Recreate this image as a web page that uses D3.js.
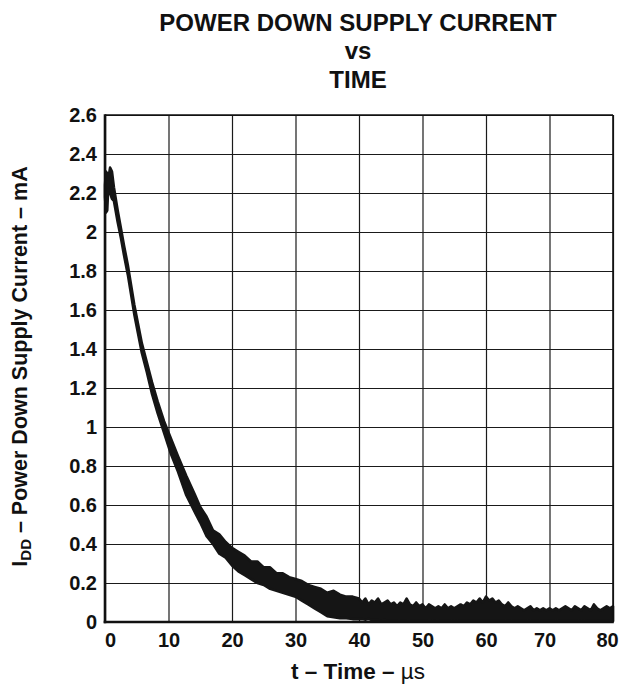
<!DOCTYPE html>
<html>
<head>
<meta charset="utf-8">
<script src="https://cdn.jsdelivr.net/npm/d3@7"></script>
<style>
  html, body { margin: 0; padding: 0; background: #fff; }
  svg { display: block; }
  text { font-family: "Liberation Sans", Arial, Helvetica, sans-serif; font-weight: bold; fill: #111; }
</style>
</head>
<body>
<svg id="chart" width="623" height="684"></svg>
<script>
// ---- data ----
const titleLines = ["POWER DOWN SUPPLY CURRENT", "vs", "TIME"];
const xTicks = [0, 10, 20, 30, 40, 50, 60, 70, 80];
const xTickLabels = ["0", "10", "20", "30", "40", "50", "60", "70", "80"];
const yTicks = [0, 0.2, 0.4, 0.6, 0.8, 1.0, 1.2, 1.4, 1.6, 1.8, 2.0, 2.2, 2.4, 2.6];
const yTickLabels = ["0", "0.2", "0.4", "0.6", "0.8", "1", "1.2", "1.4", "1.6", "1.8", "2", "2.2", "2.4", "2.6"];

// time in µs
const timeUs = [
  0, 0.15, 0.35, 0.5, 0.8, 1.1, 1.4, 2.0, 2.5, 3.0, 3.6, 4.1, 4.6, 5.2, 5.8, 6.6, 7.4, 8.3, 9.3, 10.4, 11.5, 12.8, 14.2,
  15, 16, 17, 18, 19, 20, 21, 22, 23, 24, 25, 26, 27, 28, 29, 30, 31, 32, 33, 34, 35, 36, 37, 38, 39,
  40, 40.5, 41, 41.5, 42, 42.5, 43, 43.5, 44, 44.5, 45, 45.5, 46, 46.5, 47, 47.5, 48, 48.5, 49, 49.5,
  50, 50.5, 51, 51.5, 52, 52.5, 53, 53.5, 54, 54.5, 55, 55.5, 56, 56.5, 57, 57.5, 58, 58.5, 59, 59.5,
  60, 60.5, 61, 61.5, 62, 62.5, 63, 63.5, 64, 64.5, 65, 65.5, 66, 66.5, 67, 67.5, 68, 68.5, 69, 69.5,
  70, 70.5, 71, 71.5, 72, 72.5, 73, 73.5, 74, 74.5, 75, 75.5, 76, 76.5, 77, 77.5, 78, 78.5, 79, 79.5, 80
];
// upper edge of the noisy trace (mA)
const currentHi = [
  2.24, 2.31, 2.30, 2.27, 2.33, 2.31, 2.23, 2.11, 2.02, 1.93, 1.83, 1.73, 1.63, 1.53, 1.43, 1.33, 1.23, 1.13, 1.03, 0.94, 0.85, 0.75, 0.65,
  0.59, 0.54, 0.47, 0.45, 0.41, 0.38, 0.36, 0.34, 0.31, 0.31, 0.28, 0.28, 0.25, 0.25, 0.23, 0.22, 0.21, 0.19, 0.18, 0.17, 0.15, 0.16, 0.14, 0.13, 0.13,
  0.12, 0.10, 0.12, 0.09, 0.11, 0.10, 0.12, 0.09, 0.10, 0.11, 0.09, 0.10, 0.08, 0.10, 0.09, 0.12, 0.09, 0.08, 0.10, 0.08,
  0.09, 0.07, 0.09, 0.08, 0.07, 0.08, 0.07, 0.09, 0.07, 0.08, 0.07, 0.08, 0.09, 0.08, 0.10, 0.09, 0.11, 0.10, 0.12, 0.10,
  0.13, 0.11, 0.12, 0.10, 0.11, 0.09, 0.08, 0.10, 0.08, 0.07, 0.08, 0.07, 0.06, 0.07, 0.08, 0.06, 0.07, 0.06, 0.07, 0.06,
  0.07, 0.06, 0.07, 0.06, 0.07, 0.08, 0.07, 0.06, 0.08, 0.07, 0.06, 0.08, 0.07, 0.06, 0.09, 0.07, 0.06, 0.07, 0.08, 0.07, 0.08
];
// lower edge of the noisy trace (mA)
const currentLo = [
  2.18, 2.10, 2.11, 2.22, 2.20, 2.17, 2.16, 2.05, 1.97, 1.88, 1.78, 1.68, 1.58, 1.48, 1.38, 1.28, 1.17, 1.07, 0.97, 0.86, 0.77, 0.65, 0.56,
  0.51, 0.44, 0.40, 0.35, 0.33, 0.29, 0.26, 0.24, 0.22, 0.20, 0.19, 0.17, 0.16, 0.15, 0.14, 0.13, 0.11, 0.09, 0.07, 0.05, 0.03, 0.025, 0.02, 0.02, 0.015,
  0.015, 0.015, 0.012, 0.015, 0.01, 0.012, 0.01, 0.008, 0.01, 0.006, 0.005, 0.008, 0.005, 0.004, 0.008, 0.005, 0.004, 0.006, 0.005, 0.004,
  0.006, 0.005, 0.004, 0.008, 0.005, 0.004, 0.006, 0.005, 0.004, 0.006, 0.005, 0.004, 0.006, 0.005, 0.004, 0.006, 0.005, 0.004, 0.006, 0.005,
  0.006, 0.005, 0.004, 0.006, 0.005, 0.004, 0.006, 0.005, 0.004, 0.006, 0.005, 0.004, 0.006, 0.005, 0.004, 0.006, 0.005, 0.004, 0.006, 0.005,
  0.006, 0.005, 0.004, 0.006, 0.005, 0.004, 0.006, 0.005, 0.004, 0.006, 0.005, 0.004, 0.006, 0.005, 0.004, 0.006, 0.005, 0.004, 0.006, 0.005, 0.005
];

// ---- layout ----
const svg = d3.select("#chart");
const plot = { left: 105, right: 613, top: 115, bottom: 622 };

const x = d3.scaleLinear().domain([0, 80]).range([plot.left, plot.right]);
const y = d3.scaleLinear().domain([0, 2.6]).range([plot.bottom, plot.top]);

// title
const tY = [31, 59, 88];
titleLines.forEach((s, i) => {
  svg.append("text")
    .attr("x", (plot.left + plot.right) / 2 - 1)
    .attr("y", tY[i])
    .attr("text-anchor", "middle")
    .style("font-size", "24px")
    .text(s);
});

// grid
const grid = svg.append("g").attr("class", "grid");
grid.append("g")
  .attr("transform", `translate(0,${plot.bottom})`)
  .call(d3.axisBottom(x).tickValues(xTicks).tickSize(-(plot.bottom - plot.top)).tickFormat(""))
  .call(g => g.select(".domain").remove())
  .call(g => g.selectAll(".tick line").attr("stroke", "#1a1a1a").attr("stroke-width", 1.2));
grid.append("g")
  .attr("transform", `translate(${plot.left},0)`)
  .call(d3.axisLeft(y).tickValues(yTicks).tickSize(-(plot.right - plot.left)).tickFormat(""))
  .call(g => g.select(".domain").remove())
  .call(g => g.selectAll(".tick line").attr("stroke", "#1a1a1a").attr("stroke-width", 1.2));

// trace (noisy band)
const band = timeUs.map((t, i) => ({ t, hi: currentHi[i], lo: currentLo[i] }));
svg.append("path")
  .datum(band)
  .attr("d", d3.area().x(d => x(d.t)).y0(d => y(d.lo)).y1(d => y(d.hi)))
  .attr("fill", "#151515")
  .attr("stroke", "#151515")
  .attr("stroke-width", 2.6)
  .attr("stroke-linejoin", "round");

// frame
svg.append("line").attr("x1", plot.left).attr("x2", plot.right).attr("y1", plot.top).attr("y2", plot.top)
  .attr("stroke", "#111").attr("stroke-width", 1.6);
svg.append("line").attr("x1", plot.right).attr("x2", plot.right).attr("y1", plot.top).attr("y2", plot.bottom)
  .attr("stroke", "#111").attr("stroke-width", 1.6);
svg.append("line").attr("x1", plot.left).attr("x2", plot.left).attr("y1", plot.top - 0.8).attr("y2", plot.bottom + 1.3)
  .attr("stroke", "#111").attr("stroke-width", 2.6);
svg.append("line").attr("x1", plot.left - 1.3).attr("x2", plot.right + 0.8).attr("y1", plot.bottom).attr("y2", plot.bottom)
  .attr("stroke", "#111").attr("stroke-width", 2.6);

// y tick labels
svg.append("g")
  .attr("transform", `translate(${plot.left},0)`)
  .call(d3.axisLeft(y).tickValues(yTicks).tickSize(0).tickPadding(8).tickFormat((d, i) => yTickLabels[i]))
  .call(g => g.select(".domain").remove())
  .call(g => g.selectAll("text")
    .style("font-family", '"Liberation Sans", Arial, sans-serif')
    .style("font-weight", "bold").style("font-size", "20px").attr("fill", "#111"));

// x tick labels
const xNudge = { 0: 5, 80: -6, 70: -5 };
svg.append("g")
  .attr("transform", `translate(0,${plot.bottom})`)
  .call(d3.axisBottom(x).tickValues(xTicks).tickSize(0).tickPadding(11).tickFormat((d, i) => xTickLabels[i]))
  .call(g => g.select(".domain").remove())
  .call(g => g.selectAll("text")
    .attr("dx", d => xNudge[d] || 0)
    .style("font-family", '"Liberation Sans", Arial, sans-serif')
    .style("font-weight", "bold").style("font-size", "20px").attr("fill", "#111"));

// x axis title
const xt = svg.append("text")
  .attr("x", (plot.left + plot.right) / 2 - 1)
  .attr("y", 679)
  .attr("text-anchor", "middle")
  .style("font-size", "22.5px");
xt.append("tspan").text("t – Time – ");
xt.append("tspan").style("font-weight", "normal").text("µs");

// y axis title
const yt = svg.append("text")
  .attr("transform", `translate(26.5,${(plot.top + plot.bottom) / 2 - 2}) rotate(-90)`)
  .attr("text-anchor", "middle")
  .style("font-size", "21.5px");
yt.append("tspan").text("I");
yt.append("tspan").attr("dy", 4).style("font-size", "15px").text("DD");
yt.append("tspan").attr("dy", -4).text(" – Power Down Supply Current – mA");
</script>
</body>
</html>
